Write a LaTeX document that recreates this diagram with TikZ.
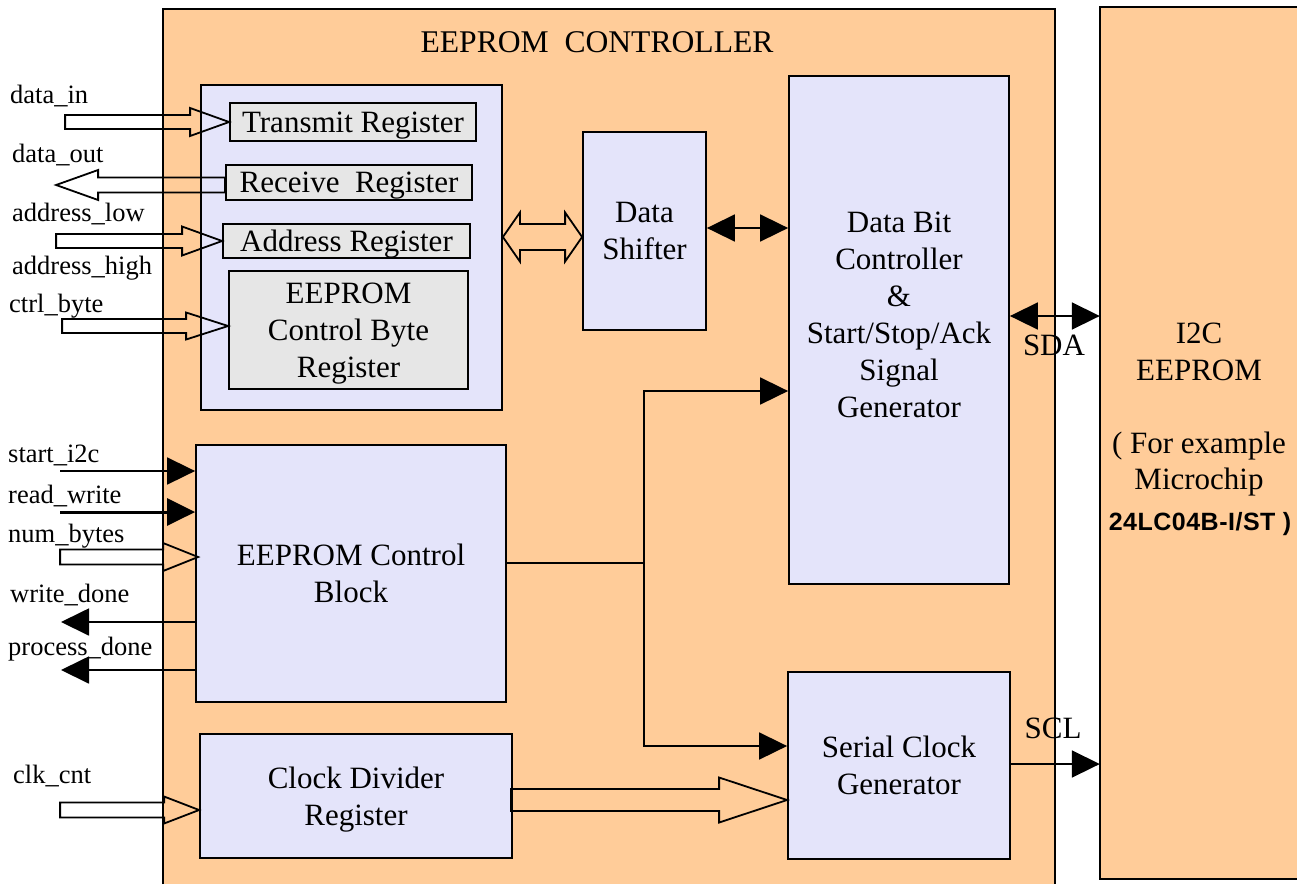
\documentclass[tikz,border=0pt]{standalone}
\usepackage{fontspec}
\setmainfont{Liberation Serif}
\newfontfamily\partfont[LetterSpace=2]{Liberation Sans}
\usetikzlibrary{arrows.meta,calc}
\definecolor{peach}{HTML}{FFCC99}
\definecolor{lav}{HTML}{E4E4FA}
\definecolor{gbox}{HTML}{E6E6E6}
\newcommand{\harrowR}[5]{%
 \draw[hollow] (#1) -- ++(-#3,-#5) -- ++(0,{#5-#4}) -- ++({-(#2-#3)},0) -- ++(0,{2*#4}) -- ++({#2-#3},0) -- ++(0,{#5-#4}) -- cycle;}
\newcommand{\harrowL}[5]{%
 \draw[hollow] (#1) -- ++(#3,-#5) -- ++(0,{#5-#4}) -- ++({#2-#3},0) -- ++(0,{2*#4}) -- ++({-(#2-#3)},0) -- ++(0,{#5-#4}) -- cycle;}
\begin{document}
\begin{tikzpicture}[x=1pt,y=-1pt,
  blk/.style={draw=black, line width=1.8pt, fill=lav, inner sep=0pt, align=center, text depth=0pt, font=\fontsize{31}{37}\selectfont},
  reg/.style={blk, fill=gbox},
  txt/.style={inner sep=0pt, align=center, font=\fontsize{31}{37}\selectfont},
  lbl/.style={anchor=base west, inner sep=0pt, font=\fontsize{26.5}{30}\selectfont},
  wire/.style={line width=1.8pt},
  tip/.style={-{Triangle[length=28pt,width=27pt]}},
  dtip/.style={{Triangle[length=28pt,width=27pt]}-{Triangle[length=28pt,width=27pt]}},
  hollow/.style={draw=black, line width=1.8pt}
]
\useasboundingbox (0,0) rectangle (1297,884);
\fill[white] (0,0) rectangle (1297,884);

% outer boxes
\node[fill=peach, inner sep=0pt, minimum width=892pt, minimum height=875pt] (ctrl) at (609,446.5) {};
\draw[wire] (ctrl.south west) -- (ctrl.north west) -- (ctrl.north east) -- (ctrl.south east);
\node[txt, anchor=base, font=\fontsize{31.6}{37}\selectfont] (title) at (597,52) {EEPROM\ \ CONTROLLER};

\node[fill=peach, inner sep=0pt, minimum width=197pt, minimum height=872pt] (ee) at (1198.5,443) {};
\draw[wire] (ee.north east) -- (ee.north west) -- (ee.south west) -- (ee.south east);
\node[txt, anchor=base] (ee1) at (1199,343) {I2C};
\node[txt, anchor=base] (ee2) at (1199,380) {EEPROM};
\node[txt, anchor=base] (ee3) at (1199,453) {( For example};
\node[txt, anchor=base] (ee4) at (1199,489) {Microchip};
\node[txt, anchor=base, font=\partfont\bfseries\fontsize{25}{28}\selectfont] (ee5) at (1200,530) {24LC04B-I/ST )};

% register group
\node[blk, minimum width=301pt, minimum height=325pt] (regs) at (351.5,247.5) {};
\node[reg, minimum width=246pt, minimum height=38pt] (tr) at (353,122) {Transmit Register};
\node[reg, minimum width=246pt, minimum height=35pt] (rr) at (349,182.5) {Receive\ \ Register};
\node[reg, minimum width=247pt, minimum height=34pt] (ar) at (346.5,241) {Address Register};
\node[reg, minimum width=239pt, minimum height=118pt] (cb) at (348.5,330) {EEPROM\\Control Byte\\Register};

\node[blk, minimum width=123pt, minimum height=198pt] (ds) at (644.5,231) {Data\\Shifter};
\node[blk, minimum width=220pt, minimum height=508pt] (dbc) at (899,330) {};
\node[txt] (dbct) at (899,315) {Data Bit\\Controller\\\&\\Start/Stop/Ack\\Signal\\Generator};
\node[blk, minimum width=310pt, minimum height=257pt] (ecb) at (351,573.5) {EEPROM Control\\Block};
\node[blk, minimum width=312pt, minimum height=124pt] (cdr) at (356,796) {Clock Divider\\Register};
\node[blk, minimum width=222pt, minimum height=187pt] (scg) at (899,765.5) {Serial Clock\\Generator};

% hollow double arrow regs <-> data shifter
\coordinate (hl) at (regs.east |- 0,237);
\coordinate (hr) at (ds.west |- 0,237);
\draw[hollow] (hl) -- ++(17,-24.5) -- ++(0,11.5) -- ($(hr)+(-17,-13)$) -- ++(0,-11.5) -- (hr) -- ++(-17,24.5) -- ++(0,-11.5) -- ($(hl)+(17,13)$) -- ++(0,11.5) -- cycle;

% data shifter <-> data bit controller
\draw[wire, dtip] (ds.east |- 0,228) -- (dbc.west |- 0,228);
% SDA / SCL
\draw[wire, dtip] (dbc.east |- 0,316) -- (ee.west |- 0,316);
\node[txt, anchor=base] (sda) at (1054,355) {SDA};
\draw[wire, tip] (scg.east |- 0,764) -- (ee.west |- 0,764);
\node[txt, anchor=base] (scl) at (1053,738) {SCL};

% fork from control block
\coordinate (fk) at (644,563);
\draw[wire] (ecb.east |- fk) -- (fk);
\draw[wire, tip] (fk) |- (dbc.west |- 0,391);
\draw[wire, tip] (fk) |- (scg.west |- 0,746);

% clock divider -> serial clock
\coordinate (cdtip) at (scg.west |- 0,800);
\harrowR{cdtip}{276}{68}{11}{22.5}

% left inputs (hollow)
\harrowR{tr.west}{164}{39}{7}{14}
\coordinate (dotip) at ($(rr.west)+(-169,2.5)$);
\harrowL{dotip}{169}{42}{7.5}{15}
\harrowR{ar.west}{166}{40}{7}{14.5}
\coordinate (cbtip) at (cb.west |- 0,326);
\harrowR{cbtip}{166}{42}{7}{13.5}
\coordinate (nbtip) at ($(ecb.west |- 0,557)+(3,0)$);
\harrowR{nbtip}{138}{35}{7.5}{14}
\coordinate (cktip) at (cdr.west |- 0,810);
\harrowR{cktip}{139}{35}{7.5}{13.5}

% left single-bit signals
\coordinate (si) at (60,471);
\draw[wire, tip] (si) -- (ecb.west |- si);
\coordinate (rw) at (60,512);
\draw[line width=3pt, tip] (rw) -- (ecb.west |- rw);
\coordinate (wd) at (61,622);
\draw[wire, tip] (ecb.west |- wd) -- (wd);
\coordinate (pd) at (61,670);
\draw[wire, tip] (ecb.west |- pd) -- (pd);

% labels
\node[lbl] (l1) at (10,103) {data\_in};
\node[lbl] (l2) at (12,162) {data\_out};
\node[lbl] (l3) at (12,221) {address\_low};
\node[lbl] (l4) at (12,274) {address\_high};
\node[lbl] (l5) at (9,312) {ctrl\_byte};
\node[lbl] (l6) at (8,462) {start\_i2c};
\node[lbl] (l7) at (8,503) {read\_write};
\node[lbl] (l8) at (8,542) {num\_bytes};
\node[lbl] (l9) at (10,602) {write\_done};
\node[lbl] (l10) at (8,655) {process\_done};
\node[lbl] (l11) at (13,783) {clk\_cnt};
\end{tikzpicture}
\end{document}
